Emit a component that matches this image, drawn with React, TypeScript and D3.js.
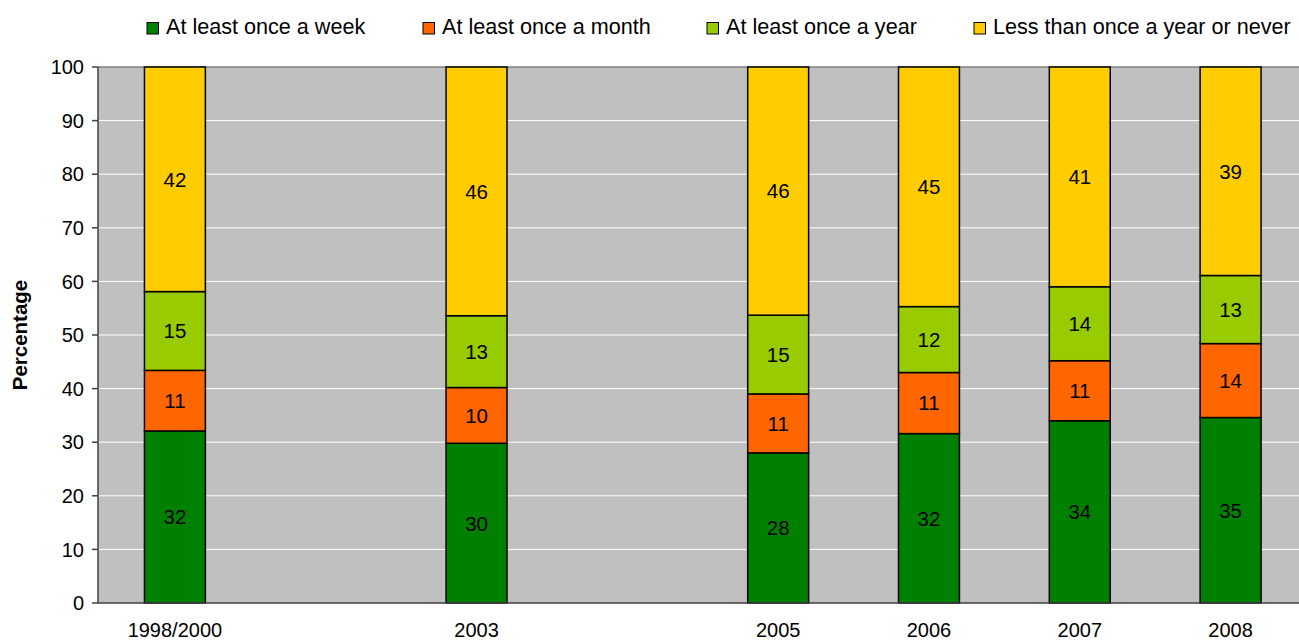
import React from 'react';
import * as d3 from 'd3';

const periods = ['1998/2000', '2003', '2005', '2006', '2007', '2008'];
// position of each period on the (date) axis; 1998/2000 sits where 2001 would be
const periodPos = [2001, 2003, 2005, 2006, 2007, 2008];

const seriesNames = [
    'At least once a week',
    'At least once a month',
    'At least once a year',
    'Less than once a year or never',
];
const weekly = [32.1, 29.8, 28.0, 31.6, 34.0, 34.6];
const monthly = [11.3, 10.4, 11.0, 11.4, 11.2, 13.8];
const yearly = [14.7, 13.4, 14.7, 12.3, 13.8, 12.7];
const never = [41.9, 46.4, 46.3, 44.7, 41.0, 38.9];
const yTicks = [0, 10, 20, 30, 40, 50, 60, 70, 80, 90, 100];

const colors = ['#008000', '#ff6600', '#99cc00', '#ffcc00'];
const legendX = [147, 423, 707, 974];

export default function App() {
    const W = 1299;
    const H = 642;
    const font = '"Liberation Sans", Arial, sans-serif';

    const x = d3.scaleLinear().domain([2000.49, 2008.5]).range([98, 1306]);
    const y = d3.scaleLinear().domain([0, 100]).range([603, 67]);
    const barW = x(2001.404) - x(2001);

    const rows = periods.map((p, i) => ({
        period: p,
        pos: periodPos[i],
        weekly: weekly[i],
        monthly: monthly[i],
        yearly: yearly[i],
        never: never[i],
    }));
    const stack = d3.stack().keys(['weekly', 'monthly', 'yearly', 'never'])(rows);

    return (
        <svg width={W} height={H} style={{ position: 'absolute', left: 0, top: 0 }} fontFamily={font}>
            <rect x={0} y={0} width={W} height={H} fill="white" />
            {/* plot area */}
            <rect x={x(2000.49)} y={y(100)} width={x(2008.5) - x(2000.49)} height={y(0) - y(100)} fill="#c0c0c0" />
            {yTicks.filter((t) => t > 0 && t < 100).map((t) => (
                <line key={t} x1={x(2000.49)} x2={W} y1={y(t)} y2={y(t)} stroke="#ffffff" strokeWidth={1} />
            ))}
            <line x1={x(2000.49)} x2={W} y1={y(100)} y2={y(100)} stroke="#808080" strokeWidth={1.5} />

            {/* bars */}
            {stack.map((layer, si) => (
                <g key={si}>
                    {layer.map((d, i) => (
                        <rect
                            key={i}
                            x={x(d.data.pos) - barW / 2}
                            y={y(d[1])}
                            width={barW}
                            height={y(d[0]) - y(d[1])}
                            fill={colors[si]}
                            stroke="#000"
                            strokeWidth={1.5}
                        />
                    ))}
                    {layer.map((d, i) => (
                        <text
                            key={'t' + i}
                            x={x(d.data.pos)}
                            y={y((d[0] + d[1]) / 2)}
                            dy="0.36em"
                            textAnchor="middle"
                            fontSize={20.5}
                            fill="#000"
                        >
                            {Math.round(d[1] - d[0])}
                        </text>
                    ))}
                </g>
            ))}

            {/* axes */}
            <line x1={x(2000.49)} x2={x(2000.49)} y1={y(100)} y2={y(0)} stroke="#404040" strokeWidth={1.5} />
            <line x1={x(2000.49)} x2={W} y1={y(0)} y2={y(0)} stroke="#404040" strokeWidth={1.5} />
            {yTicks.map((t) => (
                <g key={t}>
                    <line x1={x(2000.49) - 6} x2={x(2000.49)} y1={y(t)} y2={y(t)} stroke="#404040" strokeWidth={1.5} />
                    <text x={x(2000.49) - 14} y={y(t)} dy="0.36em" textAnchor="end" fontSize={20} fill="#000">
                        {t}
                    </text>
                </g>
            ))}
            {rows.map((r) => (
                <text key={r.period} x={x(r.pos)} y={637} textAnchor="middle" fontSize={20} fill="#000">
                    {r.period}
                </text>
            ))}
            <text
                transform={`translate(27, ${(y(0) + y(100)) / 2}) rotate(-90)`}
                textAnchor="middle"
                fontSize={20.5}
                fontWeight="bold"
                fill="#000"
            >
                Percentage
            </text>

            {/* legend */}
            {seriesNames.map((name, i) => (
                <g key={name}>
                    <rect x={legendX[i]} y={22.5} width={11.5} height={11.5} fill={colors[i]} stroke="#000" strokeWidth={1} />
                    <text x={legendX[i] + 19} y={34} fontSize={21.6} fill="#000">
                        {name}
                    </text>
                </g>
            ))}
        </svg>
    );
}
